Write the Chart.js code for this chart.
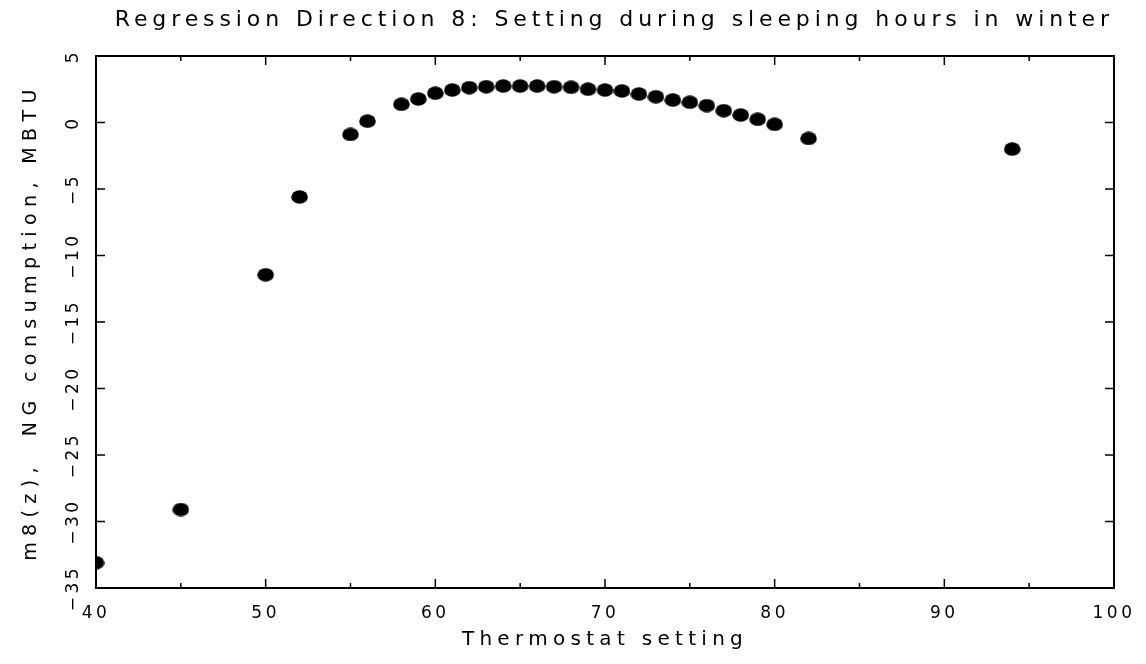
<!DOCTYPE html>
<html>
<head>
<meta charset="utf-8">
<script src="https://cdn.jsdelivr.net/npm/chart.js@4/dist/chart.umd.min.js"></script>
<style>
  html, body { margin: 0; padding: 0; background: #fff; }
  #wrap { width: 1146px; height: 664px; position: relative; }
</style>
</head>
<body>
<div id="wrap"><canvas id="c" width="1146" height="664"></canvas></div>
<script>
// Thermostat settings (x) and regression direction values (y)
const thermostat = [40, 45, 50, 52, 55, 56, 58, 59, 60, 61, 62, 63, 64, 65, 66, 67, 68, 69, 70, 71, 72, 73, 74, 75, 76, 77, 78, 79, 80, 82, 94];
const m8Values   = [-33.1, -29.1, -11.45, -5.6, -0.9, 0.1, 1.37, 1.77, 2.2, 2.44, 2.62, 2.69, 2.74, 2.74, 2.74, 2.69, 2.65, 2.5, 2.44, 2.37, 2.14, 1.94, 1.69, 1.52, 1.27, 0.89, 0.56, 0.24, -0.14, -1.2, -2.0];
const xTicks = [40, 50, 60, 70, 80, 90, 100];
const yTicks = [5, 0, -5, -10, -15, -20, -25, -30, -35];
const xRange = [40, 100];
const yRange = [-35, 5];
const titleText = 'Regression Direction 8: Setting during sleeping hours in winter';
const xTitle = 'Thermostat setting';
const yTitle = 'm8(z),  NG consumption, MBTU';

const FONT = "'DejaVu Sans', sans-serif";
// letter spacing (px) chosen by font size, to imitate the wide plotter font
const SPACING_BY_SIZE = { 22: 4.9, 20: 5.3, 19: 6.4, 17: 3.5 };

const cvs = document.getElementById('c');
const ctx0 = cvs.getContext('2d');
(function hook(ctx) {
  const desc = Object.getOwnPropertyDescriptor(CanvasRenderingContext2D.prototype, 'font');
  Object.defineProperty(ctx, 'font', {
    configurable: true,
    get() { return desc.get.call(this); },
    set(v) {
      desc.set.call(this, v);
      const m = /(\d+(?:\.\d+)?)px/.exec(v);
      const s = m ? SPACING_BY_SIZE[Math.round(+m[1])] : 0;
      this.letterSpacing = (s || 0) + 'px';
    }
  });
})(ctx0);

// elliptical plotter dot
const dot = document.createElement('canvas');
dot.width = 17; dot.height = 14;
(function () {
  const d = dot.getContext('2d');
  d.fillStyle = '#000';
  d.beginPath();
  d.ellipse(8.5, 7, 8.3, 6.8, 0, 0, Math.PI * 2);
  d.fill();
})();

const framePlugin = {
  id: 'frame',
  afterDatasetsDraw(chart) {
    const { ctx, chartArea: a, scales: { x, y } } = chart;
    ctx.save();
    ctx.strokeStyle = '#000';
    ctx.lineWidth = 2;
    ctx.strokeRect(a.left, a.top, a.right - a.left, a.bottom - a.top);
    ctx.lineWidth = 1.5;
    ctx.beginPath();
    for (let v = xRange[0] + 5; v < xRange[1]; v += 5) {
      const px = x.getPixelForValue(v);
      const len = (v % 10 === 0) ? 9 : 5;
      ctx.moveTo(px, a.bottom); ctx.lineTo(px, a.bottom - len);
      ctx.moveTo(px, a.top); ctx.lineTo(px, a.top + len);
    }
    for (let v = yRange[0] + 5; v < yRange[1]; v += 5) {
      const py = y.getPixelForValue(v);
      ctx.moveTo(a.left, py); ctx.lineTo(a.left + 9, py);
      ctx.moveTo(a.right, py); ctx.lineTo(a.right - 9, py);
    }
    ctx.stroke();
    ctx.restore();
  }
};

new Chart(cvs, {
  type: 'scatter',
  data: {
    datasets: [{
      data: thermostat.map((t, i) => ({ x: t, y: m8Values[i] })),
      backgroundColor: '#000',
      borderColor: '#000',
      pointStyle: dot,
      pointRadius: 8,
      pointHoverRadius: 8,
      clip: 0
    }]
  },
  options: {
    responsive: false,
    animation: false,
    events: [],
    layout: { padding: { left: 0, right: 32, top: 0, bottom: 0 } },
    plugins: {
      legend: { display: false },
      tooltip: { enabled: false },
      title: {
        display: true,
        text: titleText,
        align: 'end',
        color: '#000',
        font: { family: FONT, size: 22, weight: 'normal' },
        padding: { top: 7, bottom: 22.6 }
      }
    },
    scales: {
      x: {
        type: 'linear',
        min: xRange[0], max: xRange[1],
        afterBuildTicks(s) { s.ticks = xTicks.map(v => ({ value: v })); },
        afterFit(s) { s.height = 76; },
        grid: { display: false },
        border: { display: false },
        ticks: { color: '#000', font: { family: FONT, size: 17 }, padding: 7, maxRotation: 0, minRotation: 0 },
        title: { display: true, text: xTitle, color: '#000', font: { family: FONT, size: 20 }, padding: { top: 4, bottom: 12 } }
      },
      y: {
        type: 'linear',
        min: yRange[0], max: yRange[1],
        afterBuildTicks(s) { s.ticks = yTicks.map(v => ({ value: v })); },
        afterFit(s) { s.width = 96; },
        grid: { display: false },
        border: { display: false },
        ticks: {
          color: '#000', font: { family: FONT, size: 17 }, padding: -9,
          minRotation: 90, maxRotation: 90, crossAlign: 'center',
          callback: (v) => String(v).replace('-', '\u2212')
        },
        title: { display: true, text: yTitle, color: '#000', font: { family: FONT, size: 19 }, padding: { top: 20, bottom: 0 } }
      }
    }
  },
  plugins: [framePlugin]
});
</script>
</body>
</html>
